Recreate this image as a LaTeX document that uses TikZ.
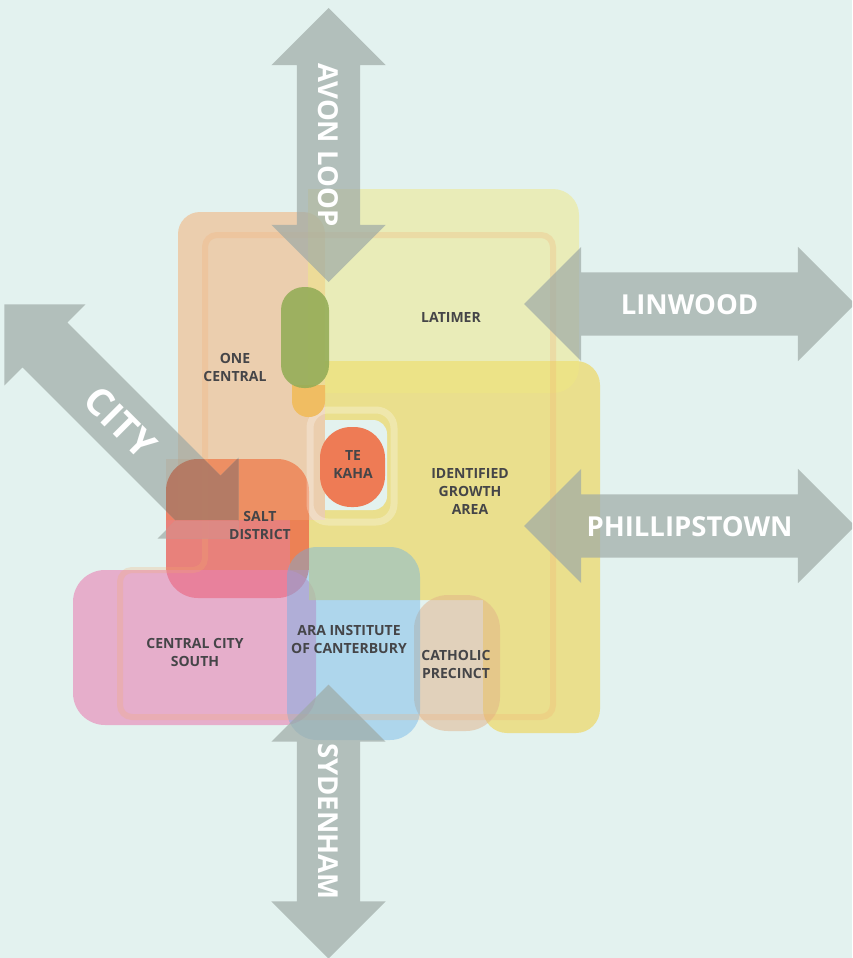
\documentclass[tikz,border=0pt]{standalone}
\usepackage{fontspec}
\setmainfont{Open Sans}
\usetikzlibrary{shapes.arrows}
\definecolor{paper}{HTML}{E3F2EF}
\definecolor{arrowgrey}{RGB}{158,170,166}
\definecolor{labelgrey}{HTML}{454548}
\definecolor{centralc}{RGB}{243,172,111}
\definecolor{latimerc}{RGB}{239,232,131}
\definecolor{growthc}{RGB}{238,216,100}
\definecolor{southc}{RGB}{232,129,179}
\definecolor{saltc}{RGB}{234,86,79}
\definecolor{arac}{RGB}{103,176,232}
\definecolor{catholicc}{RGB}{225,178,137}
\definecolor{kahac}{RGB}{238,123,85}
\definecolor{tabc}{RGB}{240,189,98}
\definecolor{mallc}{RGB}{147,172,86}
\definecolor{brownc}{RGB}{180,108,82}
\definecolor{redc}{RGB}{232,133,127}
\definecolor{hotc}{RGB}{240,130,60}

\begin{document}
\begin{tikzpicture}[x=1pt,y=-1pt,font=\bfseries]
  \tikzstyle{place}=[text=labelgrey,align=center,font=\fontsize{14}{18}\selectfont\bfseries]
  \tikzstyle{twoway}=[double arrow,fill=arrowgrey,fill opacity=.7,text opacity=1,text=white,
                      minimum height=331pt,minimum width=114pt,double arrow head extend=25.5pt,
                      inner xsep=0pt,inner ysep=21.5pt,text height=20pt,text depth=0pt,
                      font=\fontsize{27.5}{27.5}\selectfont\bfseries]
  \tikzstyle{bigway}=[twoway,rotate=-45,inner ysep=16.5pt,text height=30pt,
                      font=\fontsize{38}{38}\selectfont\bfseries]
  \tikzstyle{band}=[draw=centralc,draw opacity=.25,line width=6pt,rounded corners=12pt]

  \clip (0,0) rectangle (852,958);
  \fill[paper] (0,0) rectangle (852,958);

  \fill[saltc,opacity=.72,rounded corners=32pt] (166,459) rectangle (309,598);
  \fill[southc,opacity=.6,rounded corners=32pt] (73,570) rectangle (316,725);
  \fill[centralc,opacity=.5] (178,520) [rounded corners=22pt] -- (178,212) -- (325,212) [sharp corners] -- (325,520) -- cycle;
  \fill[growthc,opacity=.7] (325,361) [rounded corners=24pt] -- (600,361) -- (600,733) -- (483,733)
     [sharp corners] -- (483,600) -- (309,600) -- (309,520) -- (325,520) -- cycle;
  \fill[hotc,opacity=.6] (290,520) rectangle (309,570);
  \fill[hotc,opacity=.3] (166,459) [rounded corners=32pt] -- (309,459) [sharp corners] -- (309,520) -- (166,520) -- cycle;
  \fill[latimerc,opacity=.5] (308,189) [rounded corners=26pt] -- (579,189) -- (579,393) [sharp corners] -- (308,393) -- cycle;
  \fill[catholicc,opacity=.5,rounded corners=34pt] (414,595) rectangle (500,731);
  \fill[arac,opacity=.42,rounded corners=30pt] (287,547) rectangle (420,740);

  \fill[paper] (325,420) [rounded corners=14pt] -- (387,420) -- (387,510) [sharp corners] -- (325,510) -- cycle;
  \draw[white,opacity=.28,line width=7pt,rounded corners=18pt] (310,410) rectangle (394,522);
  \draw[band] (205,570) -- (205,235) -- (553,235) -- (553,717) -- (120,717) -- (120,570) -- cycle;

  \fill[tabc] (292,385) [rounded corners=16pt] -- (292,417) -- (325,417) [sharp corners] -- (325,385) -- cycle;
  \fill[mallc,opacity=.88,rounded corners=23pt] (281,287) rectangle (329,388);
  \fill[kahac,rounded corners=31pt] (320,427) rectangle (385,507);

  \node[twoway,minimum height=274pt,rotate=-90] (avon) at (328.5,145) {AVON LOOP};
  \node[twoway] (linwood) at (689.5,304) {LINWOOD};
  \node[twoway] (phillipstown) at (689.5,526) {PHILLIPSTOWN};
  \node[twoway,minimum height=274pt,rotate=-90] (sydenham) at (328.5,821.5) {SYDENHAM};
  \node[bigway] (city) at (121.5,421.5) {CITY};

  \begin{scope}
    \clip[rounded corners=32pt] (166,459) rectangle (309,598);
    \clip (150,450) rectangle (320,520);
    \node[bigway,fill=brownc] (cityhead) at (121.5,421.5) {\phantom{CITY}};
  \end{scope}
  \begin{scope}
    \clip[rounded corners=32pt] (166,459) rectangle (309,598);
    \clip (150,520) rectangle (320,560);
    \node[bigway,fill=redc,fill opacity=.8] (citytip) at (121.5,421.5) {\phantom{CITY}};
  \end{scope}

  \node[place] (latimer) at (451,317) {LATIMER};
  \node[place] (central) at (235,367) {ONE\\CENTRAL};
  \node[place] (tekaha) at (353,464) {TE\\KAHA};
  \node[place] (growth) at (470,491) {IDENTIFIED\\GROWTH\\AREA};
  \node[place] (salt) at (260,525) {SALT\\DISTRICT};
  \node[place] (south) at (195,652) {CENTRAL CITY\\SOUTH};
  \node[place] (ara) at (349,639) {ARA INSTITUTE\\OF CANTERBURY};
  \node[place] (catholic) at (456,664) {CATHOLIC\\PRECINCT};
\end{tikzpicture}
\end{document}
